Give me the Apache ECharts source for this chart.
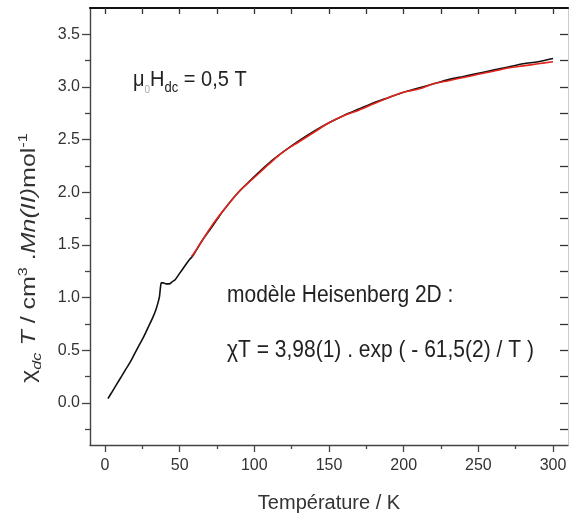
<!DOCTYPE html>
<html>
<head>
<meta charset="utf-8">
<script src="https://cdn.jsdelivr.net/npm/echarts@6/dist/echarts.min.js"></script>
<style>html,body{margin:0;padding:0;background:#fff;}#c{width:571px;height:518px;}</style>
</head>
<body>
<div id="c"></div>
<script>
// Measured data (T in K, chi*T in cm3 K mol-1)
const measuredT = [2,5,8,11,14,17,20,23,26,29,32,34,35.5,36.5,37.2,37.8,39,41,43,45,47,50,53,56,59,62,65,70,75,80,85,90,95,100,110,120,130,140,150,160,170,180,190,200,210,220,230,240,250,260,270,280,290,300];
const measuredChiT = [0.04,0.11,0.18,0.25,0.32,0.39,0.47,0.55,0.63,0.72,0.81,0.88,0.95,1.01,1.10,1.14,1.14,1.13,1.13,1.15,1.17,1.23,1.29,1.35,1.40,1.47,1.54,1.64,1.74,1.84,1.93,2.01,2.08,2.15,2.28,2.39,2.49,2.58,2.66,2.73,2.79,2.85,2.90,2.95,2.99,3.03,3.07,3.10,3.13,3.16,3.19,3.22,3.24,3.27];
// Fit curve (Heisenberg 2D model)
const fitT = [58,60,65,70,75,80,90,100,110,120,130,140,150,160,170,180,190,200,210,220,230,240,250,260,270,280,290,300];
const fitChiT = [1.39,1.43,1.54,1.65,1.75,1.84,2.01,2.14,2.27,2.39,2.48,2.57,2.66,2.73,2.78,2.84,2.90,2.95,2.98,3.03,3.06,3.09,3.12,3.15,3.18,3.20,3.22,3.24];
// Tick values
const xMajor = [0,50,100,150,200,250,300];
const xMinor = [25,75,125,175,225,275];
const xAll = [0,25,50,75,100,125,150,175,200,225,250,275,300];
const yMajor = [0,0.5,1,1.5,2,2.5,3,3.5];
const yMinor = [-0.25,0.25,0.75,1.25,1.75,2.25,2.75,3.25];
const yAll = [-0.25,0,0.25,0.5,0.75,1,1.25,1.5,1.75,2,2.25,2.5,2.75,3,3.25,3.5];
// Text
const xTitle = 'Température / K';
const modelTitle = 'modèle Heisenberg 2D :';

const FONT = 'Liberation Sans, Arial, Helvetica, sans-serif';
const zip = (a, b) => a.map((v, i) => [v, b[i]]);

// Build text with sub/superscripts from segments, measured with canvas
const measureCtx = document.createElement('canvas').getContext('2d');
function fontStr(s) { return (s.i ? 'italic ' : '') + s.size + 'px ' + FONT; }
function mathText(segs, base, color, center) {
  let x = 0;
  const children = [];
  segs.forEach(s => {
    measureCtx.font = fontStr(s);
    const w = measureCtx.measureText(s.t).width;
    let baseline = 0;
    if (s.sub) baseline = 0.25 * base;
    if (s.sup) baseline = -0.42 * base;
    children.push({
      type: 'text', x: x, y: baseline - 0.36 * s.size,
      style: {text: s.t, font: fontStr(s), fill: s.fill || color, align: 'left', verticalAlign: 'middle'}
    });
    x += w;
  });
  if (center) children.forEach(c => { c.x -= x / 2; });
  return children;
}

const chart = echarts.init(document.getElementById('c'), null, {renderer: 'canvas'});
const xBase = {type: 'value', min: -10, max: 310, splitLine: {show: false}, gridIndex: 0};
const yBase = {type: 'value', min: -0.4, max: 3.75, splitLine: {show: false}, gridIndex: 0};

const B = 20;
const muText = mathText([
  {t: 'μ', size: B}, {t: '0', size: 10, sub: true, fill: '#aaa'}, {t: 'H', size: B},
  {t: 'dc', size: 13, sub: true}, {t: ' = 0,5 T', size: B}
], B, '#222', false);
const modelText = mathText([{t: modelTitle, size: 21}], 21, '#222', false);
const fitText = mathText([
  {t: 'χ', size: 21}, {t: 'T = 3,98(1) . exp ( - 61,5(2) / T )', size: 21}
], 21, '#222', false);
const yLabel = mathText([
  {t: 'χ', size: B}, {t: 'dc', size: 13, sub: true, i: true}, {t: ' ', size: B}, {t: 'T', size: B, i: true},
  {t: ' / cm', size: B}, {t: '3', size: 13, sup: true}, {t: ' .', size: B}, {t: 'Mn(II)', size: B, i: true},
  {t: 'mol', size: B}, {t: '-1', size: 13, sup: true}
], B, '#333', true);

const option = {
  backgroundColor: '#fff',
  animation: false,
  grid: {left: 90, right: 3, top: 8, bottom: 69, containLabel: false},
  xAxis: [
    Object.assign({}, xBase, {
      position: 'bottom',
      axisLine: {show: true, onZero: false, lineStyle: {color: '#444', width: 1.3}},
      axisTick: {show: true, inside: false, length: 7, customValues: xMajor, lineStyle: {color: '#444', width: 1.3}},
      axisLabel: {show: true, customValues: xMajor, margin: 13, color: '#333', fontSize: 16, fontFamily: FONT},
      name: xTitle, nameLocation: 'middle', nameGap: 48,
      nameTextStyle: {color: '#333', fontSize: 20, fontFamily: FONT}
    }),
    Object.assign({}, xBase, {
      position: 'bottom',
      axisLine: {show: false, onZero: false},
      axisTick: {show: true, inside: false, length: 4, customValues: xMinor, lineStyle: {color: '#444', width: 1.3}},
      axisLabel: {show: false}
    }),
    Object.assign({}, xBase, {
      position: 'top',
      axisLine: {show: true, onZero: false, lineStyle: {color: '#111', width: 2.2}},
      axisTick: {show: true, inside: true, length: 6, customValues: xAll, lineStyle: {color: '#333', width: 1.3}},
      axisLabel: {show: false}
    })
  ],
  yAxis: [
    Object.assign({}, yBase, {
      position: 'left',
      axisLine: {show: true, onZero: false, lineStyle: {color: '#444', width: 1.4}},
      axisTick: {show: true, inside: false, length: 8, customValues: yMajor, lineStyle: {color: '#444', width: 1.3}},
      axisLabel: {show: true, customValues: yMajor, margin: 10, color: '#333', fontSize: 16, fontFamily: FONT,
        formatter: v => Number(v).toFixed(1)}
    }),
    Object.assign({}, yBase, {
      position: 'left',
      axisLine: {show: false, onZero: false},
      axisTick: {show: true, inside: false, length: 5, customValues: yMinor, lineStyle: {color: '#444', width: 1.3}},
      axisLabel: {show: false}
    }),
    Object.assign({}, yBase, {
      position: 'right',
      axisLine: {show: true, onZero: false, lineStyle: {color: '#ccc', width: 1}},
      axisTick: {show: true, inside: true, length: 8, customValues: yAll, lineStyle: {color: '#333', width: 1.3}},
      axisLabel: {show: false}
    })
  ],
  series: [
    {
      type: 'line', name: 'mesure', xAxisIndex: 0, yAxisIndex: 0,
      data: zip(measuredT, measuredChiT), showSymbol: false, smooth: 0.3,
      lineStyle: {color: '#111', width: 1.6}, z: 2
    },
    {
      type: 'line', name: 'fit', xAxisIndex: 0, yAxisIndex: 0,
      data: zip(fitT, fitChiT), showSymbol: false, smooth: 0.3,
      lineStyle: {color: '#e3241c', width: 1.6}, z: 3
    }
  ],
  graphic: [
    {type: 'group', x: 133, y: 88, scaleY: 1.12, children: muText},
    {type: 'group', x: 227, y: 304, scaleY: 1.1, children: modelText},
    {type: 'group', x: 227, y: 359, scaleY: 1.1, children: fitText},
    {type: 'group', x: 37, y: 258, rotation: Math.PI / 2, scaleX: 1.25, children: yLabel}
  ]
};
chart.setOption(option);
</script>
</body>
</html>
